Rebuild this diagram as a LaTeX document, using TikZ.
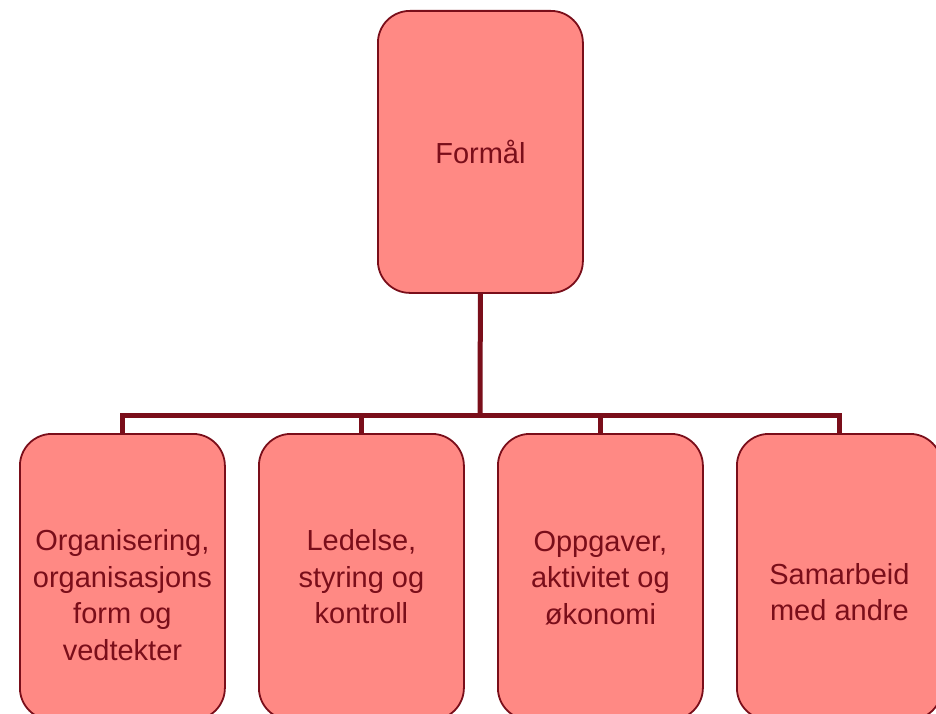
\documentclass[tikz,border=0pt]{standalone}
\usepackage{fontspec}
\setmainfont{Liberation Sans}
\definecolor{boxfill}{HTML}{FF8984}
\definecolor{boxline}{HTML}{7A0E1A}
\begin{document}
\begin{tikzpicture}[x=1pt,y=-1pt,
  orgbox/.style={draw=boxline,line width=1.8pt,fill=boxfill,rounded corners=32pt,
    minimum width=205pt,minimum height=286pt,inner sep=0pt,anchor=north west},
  boxtext/.style={text=boxline,font=\fontsize{29}{36.5}\selectfont,align=center,inner sep=0pt},
  conn/.style={draw=boxline,line width=5pt}]
\useasboundingbox (0,0) rectangle (936,714);
\clip (0,0) rectangle (936,714);
\node[orgbox,minimum height=282pt] (top) at (377,10) {};
\node[boxtext] (t0) at (top.center) {Formål};
\node[orgbox] (b1) at (19,433) {};
\node[orgbox] (b2) at (258,433) {};
\node[orgbox] (b3) at (497,433) {};
\node[orgbox] (b4) at (736,433) {};
\node[boxtext] (t1) at ([yshift=-18pt]b1.center) {Organisering,\\organisasjons\\form og\\vedtekter};
\node[boxtext] (t2) at (b2.center) {Ledelse,\\styring og\\kontroll};
\node[boxtext] (t3) at ([yshift=-1pt]b3.center) {Oppgaver,\\aktivitet og\\økonomi};
\node[boxtext] (t4) at ([yshift=-15pt]b4.center) {Samarbeid\\med andre};
\coordinate (bus) at (480,415);
\draw[conn] (top.south) -- (bus);
\draw[conn] (b1.north) |- (bus) -| (b4.north);
\draw[conn] (b2.north) -- (b2.north |- bus);
\draw[conn] (b3.north) -- (b3.north |- bus);
\end{tikzpicture}
\end{document}
